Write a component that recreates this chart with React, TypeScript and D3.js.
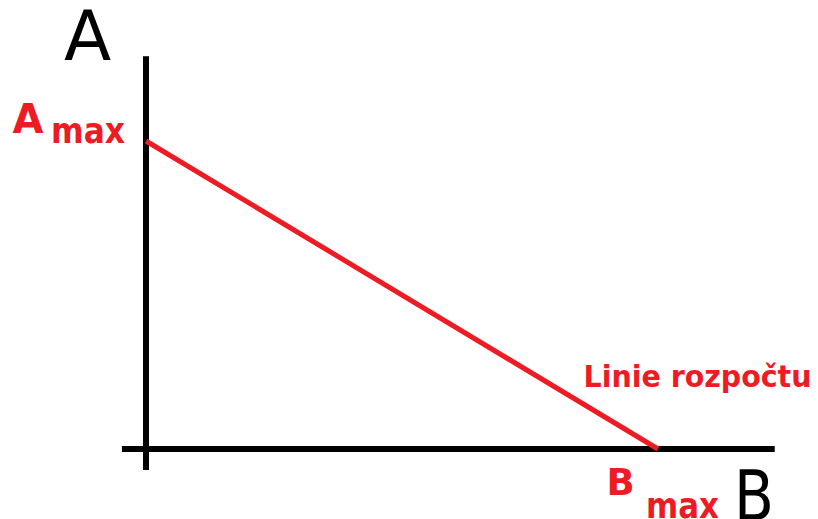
import { useEffect, useRef } from 'react';
import * as d3 from 'd3';

const width = 818;
const height = 519;

// budget line end points (A on vertical axis, B on horizontal axis)
const aMax = 6;
const bMax = 10;
const budgetLine = [
  { b: 0, a: aMax },
  { b: bMax, a: 0 },
];
// extents of the two axis strokes, in data units
const xAxisExtent = [-0.47, 12.28];
const yAxisExtent = [-0.41, 7.65];

const axisLabels = { a: 'A', b: 'B' };
const pointLabels = { a: 'A', b: 'B', sub: 'max' };
const lineLabel = 'Linie rozpočtu';

const red = '#ed1c24';
const font = '"DejaVu Sans", Verdana, sans-serif';

const App = () => {
  const ref = useRef<SVGSVGElement | null>(null);

  useEffect(() => {
    const svg = d3.select(ref.current);
    svg.selectAll('*').remove();

    const xScale = d3.scaleLinear().domain([0, bMax]).range([146, 658]);
    const yScale = d3.scaleLinear().domain([0, aMax]).range([449, 141]);

    // axes
    svg
      .append('line')
      .attr('x1', xScale(0))
      .attr('x2', xScale(0))
      .attr('y1', yScale(yAxisExtent[0]))
      .attr('y2', yScale(yAxisExtent[1]))
      .attr('stroke', '#000')
      .attr('stroke-width', 6);
    svg
      .append('line')
      .attr('x1', xScale(xAxisExtent[0]))
      .attr('x2', xScale(xAxisExtent[1]))
      .attr('y1', yScale(0))
      .attr('y2', yScale(0))
      .attr('stroke', '#000')
      .attr('stroke-width', 6);

    // budget line
    const line = d3
      .line<{ b: number; a: number }>()
      .x((d) => xScale(d.b))
      .y((d) => yScale(d.a));
    svg
      .append('path')
      .datum(budgetLine)
      .attr('d', line)
      .attr('fill', 'none')
      .attr('stroke', red)
      .attr('stroke-width', 5);

    const text = (
      x: number,
      y: number,
      s: string,
      size: number,
      color: string,
      bold: boolean,
      len?: number
    ) => {
      const t = svg
        .append('text')
        .attr('x', x)
        .attr('y', y)
        .attr('text-anchor', 'middle')
        .attr('font-family', font)
        .attr('font-size', size)
        .attr('font-weight', bold ? 'bold' : 'normal')
        .attr('fill', color)
        .text(s);
      if (len) t.attr('textLength', len).attr('lengthAdjust', 'spacingAndGlyphs');
    };

    // axis names
    text(87.5, 60, axisLabels.a, 69, '#000', false);
    text(754, 520, axisLabels.b, 69, '#000', false, 40);

    // intercept labels
    text(28, 133, pointLabels.a, 40, red, true);
    text(88, 143, pointLabels.sub, 36, red, true, 74);
    text(620.5, 495, pointLabels.b, 37, red, true);
    text(682.5, 518, pointLabels.sub, 36, red, true, 73);

    text(697.5, 387, lineLabel, 30, red, true, 228);
  }, []);

  return (
    <svg
      ref={ref}
      width={width}
      height={height}
      viewBox={`0 0 ${width} ${height}`}
      style={{ position: 'absolute', left: 0, top: 0, background: '#fff' }}
    />
  );
};

export default App;
